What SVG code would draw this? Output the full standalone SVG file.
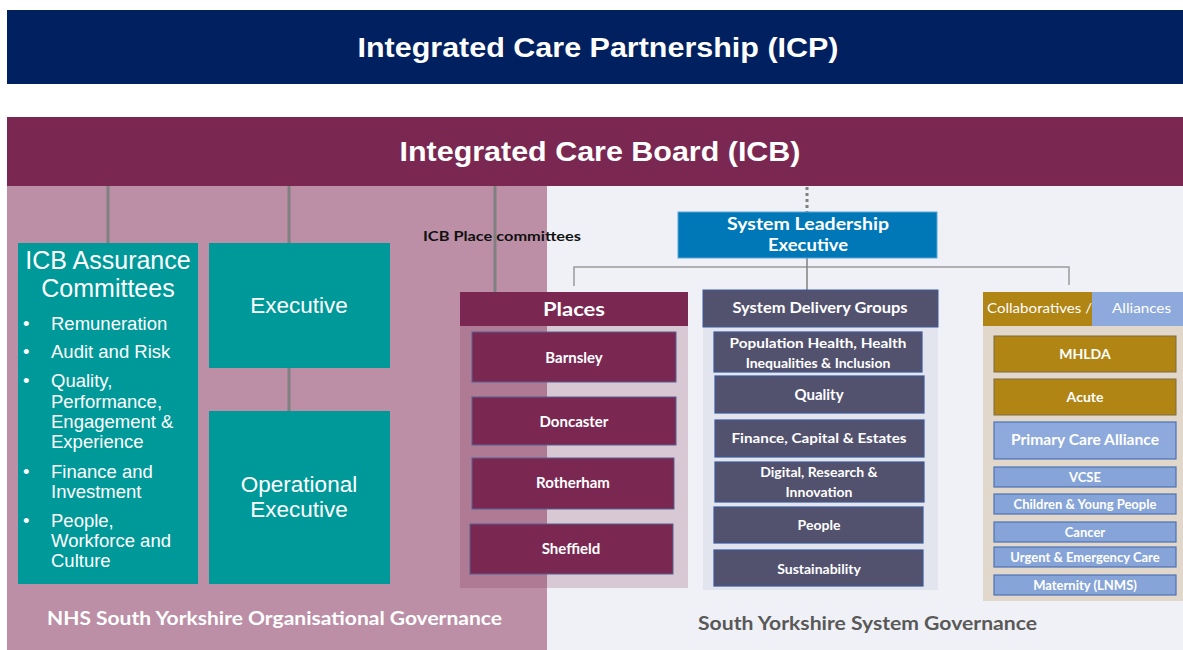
<svg xmlns="http://www.w3.org/2000/svg" width="1183" height="650" viewBox="0 0 1183 650">
  <style>
    .arial { font-family: "Liberation Sans", Arial, sans-serif; }
    .cal { font-family: Lato, "Liberation Sans", sans-serif; font-weight: bold; }
    .goth { font-family: Lato, "DejaVu Sans", sans-serif; }
    .w { fill: #ffffff; }
    .teal { fill: #009999; }
    .place { fill: #7A2852; stroke: #56608F; stroke-width: 1; }
    .sdg { fill: #52526F; stroke: #3C5A9A; stroke-width: 1.2; }
    .gold { fill: #B08514; stroke: #7F6A40; stroke-width: 1; }
    .blue { fill: #86A4D8; stroke: #4D72B5; stroke-width: 1.2; }
    .conn { stroke: #808080; stroke-width: 3; fill: none; }
    .thin { stroke: #9A9A9A; stroke-width: 1.5; fill: none; }
  </style>

  <!-- background -->
  <rect x="0" y="0" width="1183" height="650" fill="#ffffff"/>

  <!-- ICP banner -->
  <g id="icp">
    <rect x="7" y="10" width="1176" height="74" fill="#002060"/>
    <text class="arial w" x="598" y="57" font-size="27" font-weight="bold" text-anchor="middle" textLength="481" lengthAdjust="spacingAndGlyphs">Integrated Care Partnership (ICP)</text>
  </g>

  <!-- governance areas -->
  <g id="areas">
    <rect x="547" y="186" width="636" height="464" fill="#F0F1F6"/>
    <rect x="7" y="186" width="540" height="464" fill="#BC8FA6"/>
  </g>

  <!-- ICB banner -->
  <g id="icb">
    <rect x="7" y="117" width="1176" height="69" fill="#7A2852"/>
    <text class="arial w" x="600" y="161" font-size="27" font-weight="bold" text-anchor="middle" textLength="401" lengthAdjust="spacingAndGlyphs">Integrated Care Board (ICB)</text>
  </g>

  <!-- connectors -->
  <g id="connectors">
    <line class="conn" x1="108" y1="186" x2="108" y2="243"/>
    <line class="conn" x1="289" y1="186" x2="289" y2="243"/>
    <line class="conn" x1="289" y1="368" x2="289" y2="411"/>
    <line class="conn" x1="495" y1="186" x2="495" y2="292"/>
    <line x1="807" y1="187" x2="807" y2="212" stroke="#808080" stroke-width="3" stroke-dasharray="3 3"/>
    <polyline class="thin" points="574,286 574,267 1069,267 1069,285"/>
    <line x1="807" y1="252" x2="807" y2="290" stroke="#808080" stroke-width="1.5"/>
  </g>

  <!-- ICB Assurance Committees -->
  <g id="assurance">
    <rect class="teal" x="18" y="243" width="180" height="341"/>
    <g class="arial w">
      <text x="108" y="269" font-size="25" text-anchor="middle">ICB Assurance</text>
      <text x="108" y="297" font-size="25" text-anchor="middle">Committees</text>
      <g font-size="18.5">
        <text x="23" y="330">•</text><text x="51" y="330">Remuneration</text>
        <text x="23" y="358">•</text><text x="51" y="358">Audit and Risk</text>
        <text x="23" y="387">•</text><text x="51" y="387">Quality,</text>
        <text x="51" y="408">Performance,</text>
        <text x="51" y="428">Engagement &amp;</text>
        <text x="51" y="448">Experience</text>
        <text x="23" y="478">•</text><text x="51" y="478">Finance and</text>
        <text x="51" y="498">Investment</text>
        <text x="23" y="527">•</text><text x="51" y="527">People,</text>
        <text x="51" y="547">Workforce and</text>
        <text x="51" y="567">Culture</text>
      </g>
    </g>
  </g>

  <!-- Executive -->
  <g id="executive">
    <rect class="teal" x="209" y="243" width="181" height="125"/>
    <text class="arial w" x="299" y="313" font-size="22.5" text-anchor="middle">Executive</text>
  </g>

  <!-- Operational Executive -->
  <g id="operational-executive">
    <rect class="teal" x="209" y="411" width="181" height="173"/>
    <text class="arial w" x="299" y="492" font-size="22.5" text-anchor="middle">Operational</text>
    <text class="arial w" x="299" y="517" font-size="22.5" text-anchor="middle">Executive</text>
  </g>

  <!-- ICB Place committees label -->
  <g id="place-committees-label">
    <text class="cal" x="423" y="241" font-size="14" fill="#111111" textLength="158" lengthAdjust="spacingAndGlyphs">ICB Place committees</text>
  </g>

  <!-- Places -->
  <g id="places">
    <rect x="460" y="292" width="228" height="296" fill="#7A2852" fill-opacity="0.2"/>
    <rect x="460" y="292" width="228" height="34" fill="#7A2852"/>
    <text class="goth w" x="574" y="316" font-size="19" font-weight="bold" text-anchor="middle" textLength="62" lengthAdjust="spacingAndGlyphs">Places</text>
  </g>
  <g id="barnsley">
    <rect class="place" x="472" y="332" width="204" height="50"/>
    <text class="cal w" x="574" y="363" font-size="15" text-anchor="middle">Barnsley</text>
  </g>
  <g id="doncaster">
    <rect class="place" x="472" y="397" width="204" height="48"/>
    <text class="cal w" x="574" y="427" font-size="15" text-anchor="middle">Doncaster</text>
  </g>
  <g id="rotherham">
    <rect class="place" x="472" y="458" width="202" height="51"/>
    <text class="cal w" x="573" y="488" font-size="15" text-anchor="middle">Rotherham</text>
  </g>
  <g id="sheffield">
    <rect class="place" x="470" y="524" width="203" height="50"/>
    <text class="cal w" x="571" y="554" font-size="15" text-anchor="middle">Sheffield</text>
  </g>

  <!-- System Leadership Executive -->
  <g id="system-leadership-executive">
    <rect x="678" y="212" width="259" height="46" fill="#0078B8" stroke="#5AA6D6" stroke-width="1"/>
    <text class="goth w" x="808" y="230" font-size="16.5" font-weight="bold" text-anchor="middle" textLength="162" lengthAdjust="spacingAndGlyphs">System Leadership</text>
    <text class="goth w" x="808" y="251" font-size="16.5" font-weight="bold" text-anchor="middle" textLength="80" lengthAdjust="spacingAndGlyphs">Executive</text>
  </g>

  <!-- System Delivery Groups -->
  <g id="system-delivery-groups">
    <rect x="703" y="290" width="235" height="300" fill="#E2E4EE"/>
    <rect x="703" y="290" width="235" height="37" fill="#52526F" stroke="#3C5A9A" stroke-width="1"/>
    <text class="cal w" x="820" y="313" font-size="15" text-anchor="middle" textLength="175" lengthAdjust="spacingAndGlyphs">System Delivery Groups</text>
  </g>
  <g id="sdg-population-health">
    <rect class="sdg" x="714" y="332" width="208" height="40"/>
    <text class="cal w" x="818" y="348" font-size="14" text-anchor="middle" textLength="177" lengthAdjust="spacingAndGlyphs">Population Health, Health</text>
    <text class="cal w" x="818" y="368" font-size="14" text-anchor="middle">Inequalities &amp; Inclusion</text>
  </g>
  <g id="sdg-quality">
    <rect class="sdg" x="715" y="376" width="209" height="37"/>
    <text class="cal w" x="819" y="400" font-size="15" text-anchor="middle">Quality</text>
  </g>
  <g id="sdg-finance">
    <rect class="sdg" x="715" y="420" width="209" height="37"/>
    <text class="cal w" x="819" y="443" font-size="14" text-anchor="middle" textLength="175" lengthAdjust="spacingAndGlyphs">Finance, Capital &amp; Estates</text>
  </g>
  <g id="sdg-digital">
    <rect class="sdg" x="715" y="462" width="209" height="40"/>
    <text class="cal w" x="819" y="477" font-size="14" text-anchor="middle">Digital, Research &amp;</text>
    <text class="cal w" x="819" y="497" font-size="14" text-anchor="middle">Innovation</text>
  </g>
  <g id="sdg-people">
    <rect class="sdg" x="714" y="507" width="209" height="36"/>
    <text class="cal w" x="819" y="530" font-size="14" text-anchor="middle">People</text>
  </g>
  <g id="sdg-sustainability">
    <rect class="sdg" x="714" y="550" width="209" height="36"/>
    <text class="cal w" x="819" y="574" font-size="14" text-anchor="middle">Sustainability</text>
  </g>

  <!-- Collaboratives / Alliances -->
  <g id="collaboratives-alliances">
    <rect x="983" y="292" width="200" height="309" fill="#E1D8CB"/>
    <rect x="983" y="292" width="109" height="34" fill="#B08514"/>
    <rect x="1092" y="292" width="91" height="34" fill="#8EA9DB"/>
    <text class="goth w" x="987" y="313" font-size="14" textLength="105" lengthAdjust="spacingAndGlyphs">Collaboratives /</text>
    <text class="goth w" x="1112" y="313" font-size="14" textLength="59" lengthAdjust="spacingAndGlyphs">Alliances</text>
  </g>
  <g id="mhlda">
    <rect class="gold" x="994" y="336" width="182" height="36"/>
    <text class="cal w" x="1085" y="359" font-size="14" text-anchor="middle">MHLDA</text>
  </g>
  <g id="acute">
    <rect class="gold" x="994" y="379" width="182" height="36"/>
    <text class="cal w" x="1085" y="402" font-size="14" text-anchor="middle">Acute</text>
  </g>
  <g id="primary-care-alliance">
    <rect x="994" y="422" width="182" height="37" fill="#8EA9DB" stroke="#4D72B5" stroke-width="1.2"/>
    <text class="cal w" x="1085" y="445" font-size="15" text-anchor="middle" textLength="148" lengthAdjust="spacingAndGlyphs">Primary Care Alliance</text>
  </g>
  <g id="vcse">
    <rect class="blue" x="994" y="467" width="182" height="20"/>
    <text class="cal w" x="1085" y="482" font-size="13" text-anchor="middle">VCSE</text>
  </g>
  <g id="children-young-people">
    <rect class="blue" x="994" y="494" width="182" height="20"/>
    <text class="cal w" x="1085" y="509" font-size="13" text-anchor="middle">Children &amp; Young People</text>
  </g>
  <g id="cancer">
    <rect class="blue" x="994" y="522" width="182" height="20"/>
    <text class="cal w" x="1085" y="537" font-size="13" text-anchor="middle">Cancer</text>
  </g>
  <g id="urgent-emergency-care">
    <rect class="blue" x="994" y="547" width="182" height="20"/>
    <text class="cal w" x="1085" y="562" font-size="13" text-anchor="middle">Urgent &amp; Emergency Care</text>
  </g>
  <g id="maternity">
    <rect class="blue" x="994" y="575" width="182" height="20"/>
    <text class="cal w" x="1085" y="590" font-size="13" text-anchor="middle">Maternity (LNMS)</text>
  </g>

  <!-- footer captions -->
  <g id="captions">
    <text class="cal" x="47" y="625" font-size="18.5" fill="#ffffff" textLength="455" lengthAdjust="spacingAndGlyphs">NHS South Yorkshire Organisational Governance</text>
    <text class="cal" x="698" y="630" font-size="19.5" fill="#595959" textLength="339" lengthAdjust="spacingAndGlyphs">South Yorkshire System Governance</text>
  </g>
</svg>
